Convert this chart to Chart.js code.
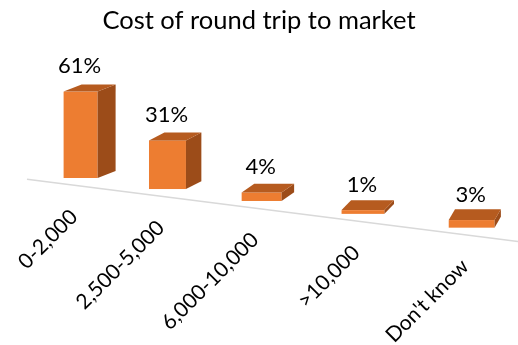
<!DOCTYPE html>
<html>
<head>
<meta charset="utf-8">
<script src="https://cdn.jsdelivr.net/npm/chart.js@4"></script>
<style>
  html, body { margin: 0; padding: 0; background: #fff; }
  #wrap { width: 518px; height: 345px; }
</style>
</head>
<body>
<div id="wrap"><canvas id="tripChart" width="518" height="345"></canvas></div>
<script>
// 数据
const categories = ['0-2,000', '2,500-5,000', '6,000-10,000', '>10,000', "Don't know"];
const shares = [61, 31, 4, 1, 3];
const valueLabels = ['61%', '31%', '4%', '1%', '3%'];

const FONT = 'Lato, "Open Sans", sans-serif';
const FRONT = '#ED7D31';
const TOP = '#B65B1F';
const SIDE = '#9C4C19';
const SLOPE = 0.127;
const SHIFT = 16; // 图表区左右对称, 柱子整体右移

// 透视: 让右边的柱子间距稍大
function persp(x, x0) {
    const u = x - x0;
    return x0 + SHIFT + 0.8565 * u + 0.000384 * u * u;
}
function perspScale(x, x0) {
    return 1 + 0.000897 * (x - x0);
}

// 3D 柱子插件
const bars3d = {
    id: 'bars3d',
    afterDatasetsDraw(chart) {
        const ctx = chart.ctx;
        const meta = chart.getDatasetMeta(0);
        const x0 = meta.data[0].x;
        const X0 = x0 + SHIFT;
        const base = meta.data[0].base;

        // 地面线
        ctx.save();
        ctx.strokeStyle = '#D9D9D9';
        ctx.lineWidth = 1.5;
        ctx.beginPath();
        ctx.moveTo(27, base + 8 + SLOPE * (27 - X0));
        ctx.lineTo(518, base + 8 + SLOPE * (518 - X0));
        ctx.stroke();

        meta.data.forEach((el, i) => {
            const X = persp(el.x, x0);
            const s = perspScale(el.x, x0);
            const w = 34 * s;
            const off = SLOPE * (X - X0);
            const bottom = el.base + off;
            const top = bottom - (el.base - el.y) * s - 2;
            const L = X - w / 2, R = X + w / 2;
            const dx = 18 - 0.03 * (X - X0);
            const dy = 7 + 0.01 * (X - X0);

            // 正面
            ctx.fillStyle = FRONT;
            ctx.fillRect(L, top, w, bottom - top);
            // 侧面
            ctx.fillStyle = SIDE;
            ctx.beginPath();
            ctx.moveTo(R, top);
            ctx.lineTo(R + dx, top - dy);
            ctx.lineTo(R + dx, bottom - dy);
            ctx.lineTo(R, bottom);
            ctx.closePath();
            ctx.fill();
            // 顶面
            ctx.fillStyle = TOP;
            ctx.beginPath();
            ctx.moveTo(L, top);
            ctx.lineTo(R, top);
            ctx.lineTo(R + dx, top - dy);
            ctx.lineTo(L + dx, top - dy);
            ctx.closePath();
            ctx.fill();

            // 数值标签
            const gap = 12 - 0.012 * (X - X0);
            ctx.fillStyle = '#000';
            ctx.font = '22px ' + FONT;
            ctx.textAlign = 'center';
            ctx.textBaseline = 'alphabetic';
            ctx.fillText(valueLabels[i], X - 1, top - dy - gap);

            // 类别标签 (旋转 45°)
            ctx.save();
            ctx.translate(X - 14, bottom + 28);
            ctx.rotate(-Math.PI / 4);
            ctx.font = '21px ' + FONT;
            ctx.textAlign = 'right';
            ctx.textBaseline = 'top';
            ctx.fillText(chart.data.labels[i], 0, 0);
            ctx.restore();
        });
        ctx.restore();
    }
};

new Chart(document.getElementById('tripChart').getContext('2d'), {
    type: 'bar',
    data: {
        labels: categories,
        datasets: [{
            label: 'Cost of round trip to market',
            data: shares,
            backgroundColor: 'rgba(0,0,0,0)'
        }]
    },
    options: {
        responsive: false,
        animation: false,
        layout: { padding: { left: 16, right: 16, top: 0, bottom: 167 } },
        scales: {
            x: { display: false },
            y: { display: false, min: 0, max: 100 }
        },
        plugins: {
            legend: { display: false },
            tooltip: { enabled: false },
            title: {
                display: true,
                text: 'Cost of round trip to market',
                color: '#000',
                font: { family: FONT, size: 25.5, weight: 'normal' },
                padding: { top: 5, bottom: 4 }
            }
        }
    },
    plugins: [bars3d]
});
</script>
</body>
</html>
